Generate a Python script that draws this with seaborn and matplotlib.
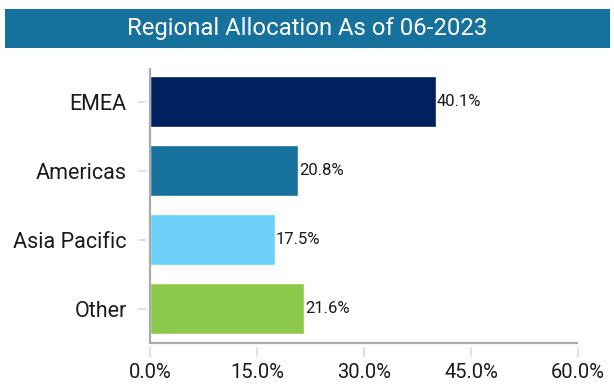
import matplotlib
matplotlib.use("Agg")
import matplotlib.pyplot as plt
from matplotlib.patches import Rectangle
from matplotlib.ticker import FuncFormatter
import seaborn as sns
import pandas as pd

regions = ["EMEA", "Americas", "Asia Pacific", "Other"]
allocation = [40.1, 20.8, 17.5, 21.6]
bar_colors = ["#01205E", "#17719D", "#6DD0F7", "#8DC94B"]
x_ticks = [0, 15, 30, 45, 60]
title = "Regional Allocation As of 06-2023"

sns.set_theme(style="white")
plt.rcParams["font.family"] = ["Roboto", "DejaVu Sans"]

df = pd.DataFrame({"region": regions, "value": allocation})

W, H = 614, 385
fig = plt.figure(figsize=(W / 100, H / 100), dpi=100)

# axes frame in pixels; ticks sit a few pixels away from the drawn axis lines
ax_left, ax_right, ax_top, ax_bottom = 146, 578, 67.5, 347
ax = fig.add_axes([ax_left / W, 1 - ax_bottom / H,
                   (ax_right - ax_left) / W, (ax_bottom - ax_top) / H])

sns.barplot(data=df, x="value", y="region", hue="region", palette=bar_colors,
            order=regions, hue_order=regions, width=0.74, legend=False,
            saturation=1, ax=ax)

gap = 4
x0 = -x_ticks[-1] * gap / (ax_right - gap - ax_left)
ax.set_xlim(x0, x_ticks[-1])
cat_px = (ax_bottom - gap - ax_top) / len(regions)
ax.set_ylim(len(regions) - 0.5 + gap / cat_px, -0.5)

for sp in ax.spines.values():
    sp.set_visible(False)

# axis lines at the data origin
frac_x0 = (0 - x0) / (x_ticks[-1] - x0)
frac_ybot = gap / (ax_bottom - ax_top)
ax.axvline(0, ymin=frac_ybot, ymax=1, color="#AAAAAA", lw=1.6, zorder=5)
ax.axhline(len(regions) - 0.5, xmin=frac_x0, xmax=1, color="#AAAAAA", lw=1.6, zorder=5)

ax.set_xticks(x_ticks)
ax.xaxis.set_major_formatter(FuncFormatter(lambda v, p: f"{v:.1f}%"))
ax.tick_params(axis="x", length=7.5, width=1.2, color="#DDDDDD", pad=4,
               labelsize=14.5, labelcolor="#1A1A1A")
ax.tick_params(axis="y", length=6, width=1.2, color="#DDDDDD", pad=8,
               labelsize=15.5, labelcolor="#1A1A1A")
ax.tick_params(left=True, bottom=True)
ax.set_xlabel("")
ax.set_ylabel("")

for i, v in enumerate(allocation):
    ax.text(v + 0.1, i, f"{v:.1f}%", va="center", ha="left",
            fontsize=12, color="#1A1A1A")

# title banner
fig.patches.append(Rectangle((5 / W, 1 - 48 / H), 605 / W, 39 / H,
                             transform=fig.transFigure, facecolor="#17719D",
                             edgecolor="none", zorder=0))
fig.text(0.5, 1 - 28.5 / H, title, ha="center", va="center",
         color="white", fontsize=17.2)

fig.savefig("out.png", dpi=100)
